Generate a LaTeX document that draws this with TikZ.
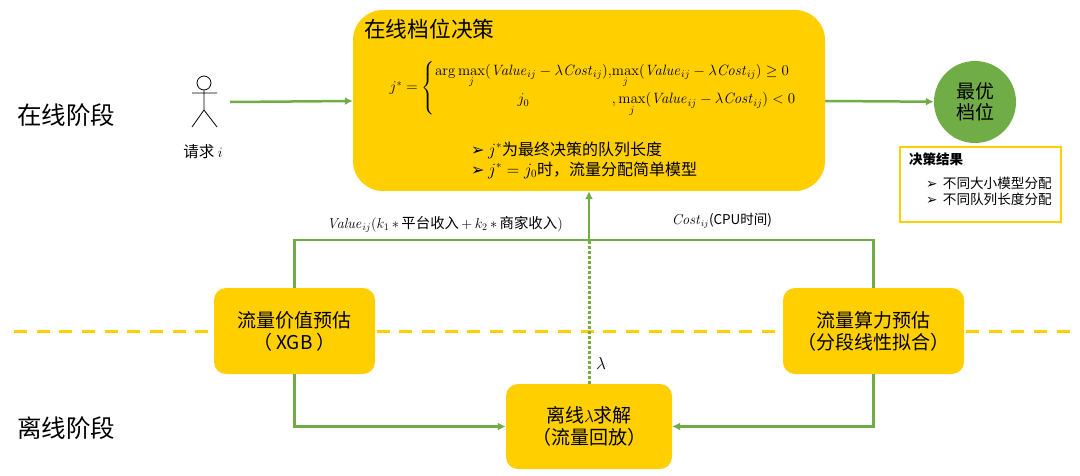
\documentclass[tikz,border=0pt]{standalone}
\usepackage{amsmath}
\usepackage{amssymb}
\usepackage[no-math]{fontspec}
\setmainfont{Noto Sans CJK SC}
\newfontfamily\arrowfont{DejaVu Sans}
\usepackage{tikz}
\usetikzlibrary{backgrounds,calc,arrows.meta}
\definecolor{gold}{HTML}{FFCF00}
\definecolor{leaf}{HTML}{70AD47}
\newcommand{\pt}[2][22]{\fontsize{#2}{#1}\selectfont}
\newcommand{\tick}{{\arrowfont\char"27A2}\ }

\begin{document}
\begin{tikzpicture}[x=1pt,y=-1pt]
    % `block' is used for the yellow boxes.
    % `flow' is used for the green connectors.
    \tikzstyle{block} = [fill=gold,rounded corners=12pt,align=center,inner sep=0pt,font=\pt{19}]
    \tikzstyle{flow} = [draw=leaf,line width=2.5pt,-{Latex[length=8pt,width=8pt]}]
    \tikzstyle{link} = [draw=leaf,line width=2.5pt]
    \tikzstyle{stage} = [font=\pt{24.5},inner sep=0pt]
    \tikzstyle{small} = [font=\pt{14.4},inner sep=0pt]
    \useasboundingbox (0,0) rectangle (1080,476);
    %
    \node[block,rounded corners=30pt,minimum width=472pt,minimum height=181pt] (online) at (589,100.5) {};
    \node[block,minimum width=161pt,minimum height=86pt] (value) at (294.5,331) {流量价值预估\\（ XGB ）};
    \node[block,minimum width=181pt,minimum height=86pt] (cost) at (873.5,331) {流量算力预估\\（分段线性拟合）};
    \node[block,minimum width=166pt,minimum height=85pt] (offline) at (589,426.5) {离线$\lambda$求解\\（流量回放）};
    \node[circle,fill=leaf,minimum size=82pt,inner sep=0pt,align=center,font={\pt[21]{19}}] (best) at (975,102) {最优\\档位};
    %
    \node[stage] (stage1) at (66,115) {在线阶段};
    \node[stage] (stage2) at (66,428) {离线阶段};
    \node[inner sep=0pt,font=\pt{21.7},anchor=west] (title) at (364,29) {在线档位决策};
    % Decision rule.
    \node[inner sep=0pt,font=\pt{14.4},scale=1.035,transform shape] (rule) at (593,88) {$j^{*}=\left\{\begin{array}{@{}c@{}l@{}}
        \displaystyle\arg\max_{j}(\mathit{Value}_{ij}-\lambda \mathit{Cost}_{ij}), & \displaystyle\max_{j}(\mathit{Value}_{ij}-\lambda \mathit{Cost}_{ij})\geq 0\\[4pt]
        j_{0} & ,\displaystyle\max_{j}(\mathit{Value}_{ij}-\lambda \mathit{Cost}_{ij})<0
      \end{array}\right.$};
    \node[inner sep=0pt,font=\pt{16},anchor=west] (note1) at (471,150) {\tick$j^{*}$为最终决策的队列长度};
    \node[inner sep=0pt,font=\pt{16},anchor=west] (note2) at (471,170) {\tick$j^{*}=j_{0}$时，流量分配简单模型};
    %
    % Request person.
    \node[draw,circle,minimum size=14pt,inner sep=0pt,line width=.8pt] (head) at (204,83) {};
    \coordinate (hip) at (204,110);
    \draw[line width=.8pt] (head) -- (hip) -- (192,127) (hip) -- (217,127) (192,93) -- (217,93);
    \node[inner sep=0pt,font=\pt{15.5}] (request) at (203,152) {请求 $i$};
    \coordinate (reqstart) at (230,102);
    %
    % Result box.
    \node[draw=gold,line width=1.5pt,minimum width=161pt,minimum height=75pt,inner sep=0pt] (result) at (980.5,184.5) {};
    \node[inner sep=0pt,font=\pt{13.5},anchor=west] (res0) at (909,159) {\textbf{决策结果}};
    \node[inner sep=0pt,font=\pt{13.6},anchor=west] (res1) at (926,183) {\tick\,不同大小模型分配};
    \node[inner sep=0pt,font=\pt{13.6},anchor=west] (res2) at (926,199) {\tick\,不同队列长度分配};
    %
    \node[small] (vlabel) at (445,224) {$\mathit{Value}_{ij}(k_{1}\,{*}\,$平台收入$\,{+}\,k_{2}\,{*}\,$商家收入$)$};
    \node[small,font=\pt{13.5}] (clabel) at (722,221) {$\mathit{Cost}_{ij}$(CPU时间)};
    \node[inner sep=0pt,font=\pt{17.28}] (lam) at (601,363) {$\lambda$};
    %
    \coordinate (join) at (589,240);
    % Draw lines.
    \draw[flow] (reqstart) -- (online.west |- 0,101);
    \draw[flow] (online.east |- 0,101) -- (best);
    \draw[link] (value.north) |- (join) -| (cost.north);
    \draw[flow] (join) -- (online.south);
    \draw[draw=leaf,line width=3pt,dash pattern=on 2.5pt off 2.5pt] (offline.north) -- (join);
    \draw[flow] (value.south) |- (offline.west);
    \draw[flow] (cost.south) |- (offline.east);
    \begin{pgfonlayer}{background}
        % Draw stage divider.
        \coordinate (divleft) at (14,331);
        \coordinate (divright) at (1070,331);
        \draw[draw=gold,line width=3pt,dash pattern=on 13pt off 9.67pt] (divleft) -- (divright);
    \end{pgfonlayer}
\end{tikzpicture}
\end{document}
